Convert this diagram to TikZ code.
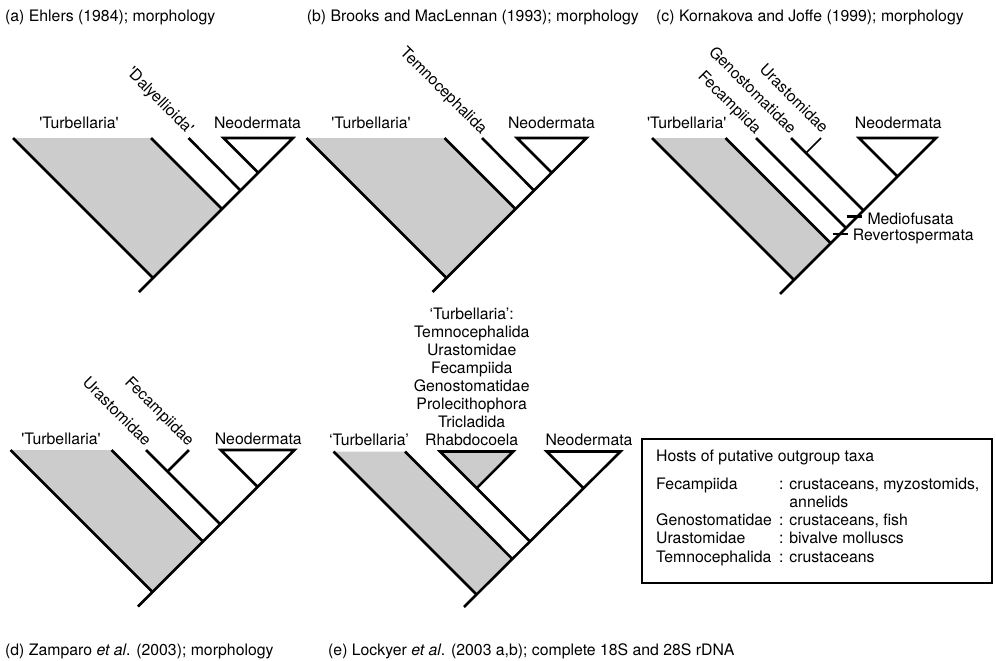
\documentclass[tikz,border=0pt]{standalone}
\usepackage{fontspec}
\setmainfont{TeX Gyre Heros}[Ligatures=TeXOff]
\definecolor{cladegray}{RGB}{204,204,204}
\tikzset{
  br/.style={line width=2.6pt, line join=miter},
  thinbr/.style={line width=1.7pt},
  clade/.style={fill=cladegray},
  lbl/.style={inner sep=0pt, font=\fontsize{15.8}{18.1}\selectfont},
  taxon/.style={lbl, anchor=base},
  rlbl/.style={lbl, rotate=-45, anchor=base east},
  title/.style={lbl, anchor=base west},
  tick/.style={line width=2.6pt},
}
\begin{document}
\begin{tikzpicture}[x=1pt,y=-1pt]
\useasboundingbox (0,0) rectangle (996,661);

% ---------- titles ----------
\node[title] (ta) at (5,21.5) {(a) Ehlers (1984); morphology};
\node[title] (tb) at (306.7,21.5) {(b) Brooks and MacLennan (1993); morphology};
\node[title] (tc) at (656,21.5) {(c) Kornakova and Joffe (1999); morphology};
\node[title] (td) at (5,655.5) {(d) Zamparo \textit{et al}. (2003); morphology};
\node[title] (te) at (328,655.5) {(e) Lockyer \textit{et al}. (2003 a,b); complete 18S and 28S rDNA};

% ---------- (a) ----------
\coordinate (aTL) at (13,138);
\coordinate (aTR) at (151,138);
\coordinate (aJ1) at (153,278);
\coordinate (aJ2) at (222,209);
\coordinate (aDt) at (188.5,138);
\coordinate (aJ3) at (240.5,190.5);
\coordinate (aNL) at (223.5,138);
\coordinate (aNR) at (293,138);
\coordinate (aNB) at (258.25,172.75);
\coordinate (aR) at (139,292);
\fill[clade] (aTL) -- (aTR) -- (aJ2) -- (aJ1) -- cycle;
\draw[br] (aTL) -- (aJ1);
\draw[br] (aTR) -- (aJ2);
\draw[br] (aDt) -- (aJ3);
\draw[br] (aR) -- (aNR) -- (aNL) -- (aNB);
\node[taxon] (aTurb) at (79,128.5) {'Turbellaria'};
\node[taxon] (aNeo) at (257.5,128.5) {Neodermata};
\node[rlbl] (aDal) at (187.5,135) {'Dalyellioida'};

% ---------- (b) ----------
\begin{scope}[xshift=293.5pt]
\coordinate (bTL) at (13,138);
\coordinate (bTR) at (151,138);
\coordinate (bJ1) at (153,278);
\coordinate (bJ2) at (222,209);
\coordinate (bTt) at (188.5,138);
\coordinate (bJ3) at (240.5,190.5);
\coordinate (bNL) at (223.5,138);
\coordinate (bNR) at (293,138);
\coordinate (bNB) at (258.25,172.75);
\coordinate (bR) at (139,292);
\fill[clade] (bTL) -- (bTR) -- (bJ2) -- (bJ1) -- cycle;
\draw[br] (bTL) -- (bJ1);
\draw[br] (bTR) -- (bJ2);
\draw[br] (bTt) -- (bJ3);
\draw[br] (bR) -- (bNR) -- (bNL) -- (bNB);
\node[taxon] (bTurb) at (77.5,128.5) {'Turbellaria'};
\node[taxon] (bNeo) at (258,128.5) {Neodermata};
\node[rlbl] (bTem) at (187.5,135) {Temnocephalida};
\end{scope}

% ---------- (c) ----------
\coordinate (cTL) at (652,138);
\coordinate (cTR) at (725.5,138);
\coordinate (cJ1) at (794,280);
\coordinate (cJ2) at (830.75,243.25);
\coordinate (cFt) at (756,138);
\coordinate (cJ3) at (846,228);
\coordinate (cGt) at (791,138);
\coordinate (cJ4) at (863.5,210.5);
\coordinate (cUt) at (821,138);
\coordinate (cUj) at (806,153);
\coordinate (cNL) at (859,138);
\coordinate (cNR) at (936,138);
\coordinate (cNB) at (897.5,176.5);
\coordinate (cR) at (780,294);
\coordinate (cM1) at (846.7,216.7);
\coordinate (cM2) at (861.7,216.7);
\coordinate (cV1) at (832.7,234);
\coordinate (cV2) at (848.3,234);
\fill[clade] (cTL) -- (cTR) -- (cJ2) -- (cJ1) -- cycle;
\draw[br] (cTL) -- (cJ1);
\draw[br] (cTR) -- (cJ2);
\draw[br] (cFt) -- (cJ3);
\draw[br] (cGt) -- (cJ4);
\draw[thinbr] (cUt) -- (cUj);
\draw[br] (cR) -- (cNR) -- (cNL) -- (cNB);
\draw[tick] (cM1) -- (cM2);
\draw[tick] (cV1) -- (cV2);
\node[taxon] (cTurb) at (686.7,128.5) {'Turbellaria'};
\node[taxon] (cNeo) at (898.3,128.5) {Neodermata};
\node[rlbl] (cFec) at (755,135) {Fecampiida};
\node[rlbl] (cGen) at (790,135) {Genostomatidae};
\node[rlbl] (cUra) at (822,134) {Urastomidae};
\node[lbl, anchor=base west] (cMed) at (867.3,224.2) {Mediofusata};
\node[lbl, anchor=base west] (cRev) at (852.7,240.2) {Revertospermata};

% ---------- (d) ----------
\coordinate (dTL) at (10.5,450);
\coordinate (dTR) at (111.5,450);
\coordinate (dJ1) at (152.5,592);
\coordinate (dJ2) at (203,541.5);
\coordinate (dUt) at (146,450);
\coordinate (dJ3) at (220.25,524.25);
\coordinate (dFt) at (189,450);
\coordinate (dFj) at (167.5,471.5);
\coordinate (dNL) at (220.7,450);
\coordinate (dNR) at (294.5,450);
\coordinate (dNB) at (257.6,486.9);
\coordinate (dR) at (138,606.5);
\fill[clade] (dTL) -- (dTR) -- (dJ2) -- (dJ1) -- cycle;
\draw[br] (dTL) -- (dJ1);
\draw[br] (dTR) -- (dJ2);
\draw[br] (dUt) -- (dJ3);
\draw[br] (dFt) -- (dFj);
\draw[br] (dR) -- (dNR) -- (dNL) -- (dNB);
\node[taxon] (dTurb) at (61,444.5) {'Turbellaria'};
\node[taxon] (dNeo) at (258.3,444.5) {Neodermata};
\node[rlbl] (dUra) at (145,447) {Urastomidae};
\node[rlbl] (dFec) at (188,447) {Fecampiidae};

% ---------- (e) ----------
\coordinate (eTL) at (333.5,451.5);
\coordinate (eTR) at (405,451.5);
\coordinate (eJ1) at (477,595);
\coordinate (eJ2) at (512.7,559.3);
\coordinate (eRL) at (440,451.5);
\coordinate (eRR) at (513.3,451.5);
\coordinate (eRB) at (476.7,488.2);
\coordinate (eJ3) at (530.3,541.8);
\coordinate (eNL) at (546.7,451.5);
\coordinate (eNR) at (620.5,451.5);
\coordinate (eNB) at (583.6,488.4);
\coordinate (eR) at (464,607);
\fill[clade] (eTL) -- (eTR) -- (eJ2) -- (eJ1) -- cycle;
\fill[clade] (eRL) -- (eRR) -- (eRB) -- cycle;
\draw[br] (eTL) -- (eJ1);
\draw[br] (eTR) -- (eJ2);
\draw[br] (eJ3) -- (eRL) -- (eRR) -- (eRB);
\draw[br] (eR) -- (eNR) -- (eNL) -- (eNB);
\node[taxon] (eTurb) at (369,445.5) {‘Turbellaria’};
\node[taxon] (eNeo) at (589,445.5) {Neodermata};
\foreach \t [count=\i from 0] in {{‘Turbellaria’:},Temnocephalida,Urastomidae,Fecampiida,Genostomatidae,Prolecithophora,Tricladida,Rhabdocoela}
  \node[taxon] (eList\i) at (471.7,319+18.1*\i) {\t};

% ---------- legend ----------
\node[draw, line width=1.8pt, minimum width=350pt, minimum height=143.7pt, inner sep=0pt] (legend) at (817,511.15) {};
\node[title] (lgT) at (656,461) {Hosts of putative outgroup taxa};
\node[title] (lgF) at (656,489.5) {Fecampiida};
\node[title] (lgFh) at (779,489.5) {: crustaceans, myzostomids,};
\node[title] (lgFh2) at (779,507) {\phantom{: }annelids};
\node[title] (lgG) at (656,525) {Genostomatidae};
\node[title] (lgGh) at (779,525) {: crustaceans, fish};
\node[title] (lgU) at (656,543.5) {Urastomidae};
\node[title] (lgUh) at (779,543.5) {: bivalve molluscs};
\node[title] (lgM) at (656,562) {Temnocephalida};
\node[title] (lgMh) at (779,562) {: crustaceans};
\end{tikzpicture}
\end{document}
